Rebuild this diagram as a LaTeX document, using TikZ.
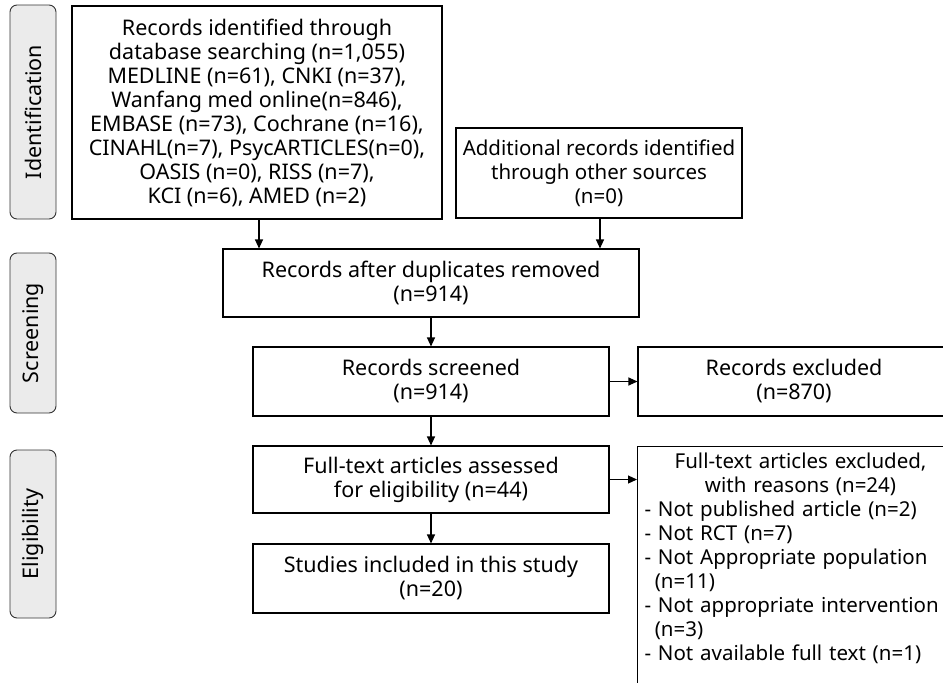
\documentclass[tikz,border=0pt]{standalone}
\usepackage{fontspec}
\setmainfont{Noto Sans}
\usetikzlibrary{arrows.meta}

\begin{document}
\begin{tikzpicture}[x=1pt,y=-1pt,
  flowbox/.style={draw, line width=1.1pt, inner sep=0pt, align=center,
    font=\fontsize{21.5}{24}\selectfont},
  phasebox/.style={draw=black!80, fill=black!8, line width=0.9pt, rounded corners=7pt,
    rotate=90, inner sep=0pt, minimum height=46, font=\fontsize{21.5}{24}\selectfont},
  flowarrow/.style={-{Triangle[length=9pt,width=8pt]}, line width=1.1pt}]
\useasboundingbox (0,0) rectangle (943,683);
\clip (0,0) rectangle (943,683);
% phases
\node[phasebox, minimum width=214] (ident) at (33,112) {Identification};
\node[phasebox, minimum width=160] (screen) at (33,333) {Screening};
\node[phasebox, minimum width=168] (elig) at (33,534) {Eligibility};
% identification
\node[flowbox, minimum width=370, minimum height=213] (dbsearch) at (257,112.5)
  {Records identified through\\ database searching (n=1,055)\\ MEDLINE (n=61), CNKI (n=37),\\
   Wanfang med online(n=846),\\ EMBASE (n=73), Cochrane (n=16),\\ CINAHL(n=7), PsycARTICLES(n=0),\\
   OASIS (n=0), RISS (n=7),\\ KCI (n=6), AMED (n=2)};
\node[flowbox, minimum width=286, minimum height=90,
  font=\fontsize{20.5}{24}\selectfont] (othersrc) at (599,173)
  {Additional records identified\\ through other sources\\ (n=0)};
% screening
\node[flowbox, minimum width=416, minimum height=68] (dedup) at (431,283)
  {Records after duplicates removed\\ (n=914)};
\node[flowbox, minimum width=356, minimum height=69] (screened) at (431,381.5)
  {Records screened\\ (n=914)};
\node[flowbox, minimum width=312, minimum height=69] (excl) at (794,381.5)
  {Records excluded\\ (n=870)};
% eligibility
\node[flowbox, minimum width=356, minimum height=67] (fulltext) at (431,479.5)
  {Full-text articles assessed\\ for eligibility (n=44)};
\node[flowbox, minimum width=356, minimum height=69] (included) at (431,578.5)
  {Studies included in this study\\ (n=20)};
\node[flowbox, anchor=north west, align=left, text width=312,
  font=\fontsize{20.5}{24}\selectfont, inner xsep=7pt, inner ysep=6pt] (ftexcl) at (637,446)
  {\centering Full-text articles excluded,\\ with reasons (n=24)\par
   \raggedright - Not published article (n=2)\\ - Not RCT (n=7)\\ - Not Appropriate population\\
   \hspace*{0.5em}(n=11)\\ - Not appropriate intervention\\ \hspace*{0.5em}(n=3)\\
   - Not available full text (n=1)\rule[-40pt]{0pt}{40pt}};
% arrows
\draw[flowarrow] (dbsearch.south -| 259,0) -- (dedup.north -| 259,0);
\draw[flowarrow] (othersrc.south -| 600,0) -- (dedup.north -| 600,0);
\draw[flowarrow] (dedup) -- (screened);
\draw[flowarrow] (screened) -- (excl);
\draw[flowarrow] (screened) -- (fulltext);
\draw[flowarrow] (fulltext) -- (included);
\draw[flowarrow] (fulltext.east) -- (fulltext.east -| ftexcl.west);
\end{tikzpicture}
\end{document}
